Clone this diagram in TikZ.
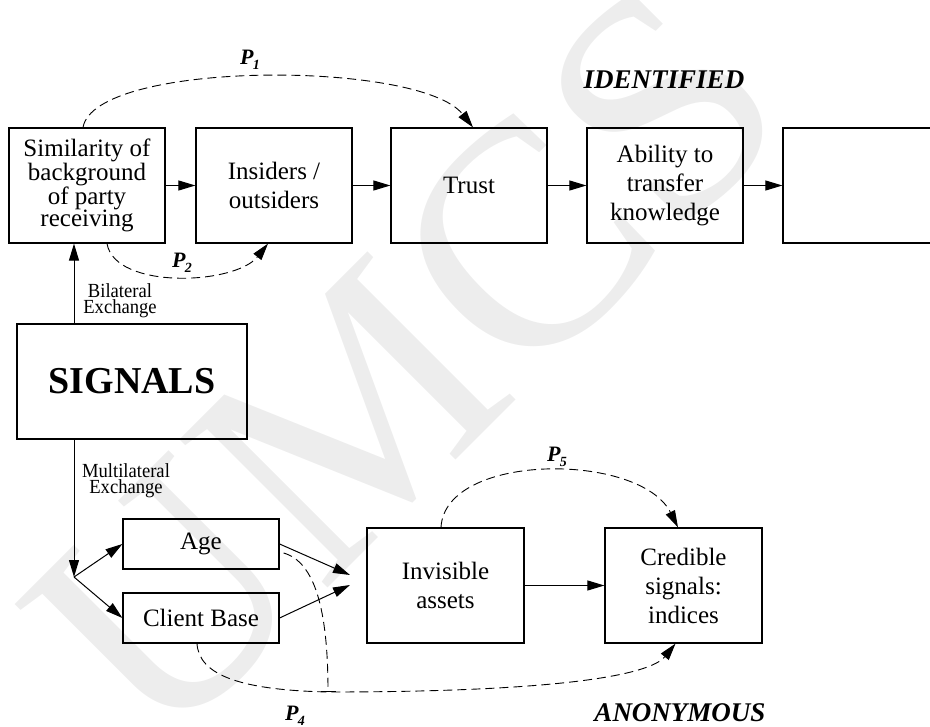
\documentclass[tikz,border=0pt]{standalone}
\usepackage{fontspec}
\setmainfont{Liberation Serif}
\newfontfamily\narrowserif{Liberation Serif}[FakeStretch=0.93]
\usetikzlibrary{arrows.meta,calc}
\newcommand\pname[1]{P\kern-0.5pt\raisebox{-5pt}{\fontsize{14}{14}\selectfont #1}}

\begin{document}
\begin{tikzpicture}[x=1pt,y=-1pt,
  box/.style={draw, line width=1.2pt, minimum width=156pt, minimum height=115pt,
    align=center, inner sep=0pt, font=\fontsize{25}{29}\selectfont},
  smallbox/.style={box, minimum height=50pt},
  arr/.style={line width=1pt, -{Triangle[length=17pt,width=10pt]}},
  darr/.style={line width=0.9pt, dash pattern=on 9pt off 5pt,
    -{Triangle[length=17pt,width=10pt]}},
  dline/.style={line width=0.9pt, dash pattern=on 9pt off 5pt},
  plab/.style={font=\fontsize{22}{22}\selectfont\bfseries\itshape, inner sep=0pt},
  tag/.style={font=\fontsize{27}{27}\selectfont\bfseries\itshape, inner sep=0pt},
  exlab/.style={font=\narrowserif\fontsize{20}{16}\selectfont, align=center, inner sep=0pt}
]
\useasboundingbox (0,0) rectangle (930,727);
\clip (0,0) rectangle (930,727);

% faint background lettering
\node[rotate=45, anchor=base, text=black!7, inner sep=0pt,
  font=\fontsize{320}{320}\selectfont] (wm) at (479,437) {UMCS};

% identified chain
\node[box, font=\fontsize{25}{22.5}\selectfont] (sim) at (87,185.5)
  {Similarity of\\background\\of party\\receiving};
\node[box] (ins) at (274,185.5) {Insiders /\\outsiders};
\node[box] (tru) at (469,185.5) {Trust};
\node[box] (abi) at (665,185.5) {Ability to\\transfer\\knowledge};
\node[box] (emp) at (861,185.5) {};

% signals
\node[box, minimum width=230pt, font=\fontsize{38}{38}\selectfont\bfseries]
  (sig) at (132,381.5) {SIGNALS};

% anonymous chain
\node[smallbox] (age) at (201,544) {Age};
\node[smallbox] (cli) at (201,618) {Client Base};
\node[box, minimum width=157pt] (inv) at (445.5,585.5) {Invisible\\assets};
\node[box, minimum width=157pt] (cre) at (683.5,585.5) {Credible\\signals:\\indices};

% solid connectors
\draw[arr] (sim) -- (ins);
\draw[arr] (ins) -- (tru);
\draw[arr] (tru) -- (abi);
\draw[arr] (abi) -- (emp);

\coordinate (vx) at (74,400);
\coordinate (fork) at (74,577);
\draw[arr] (sig.north -| vx) -- (sim.south -| vx);
\draw[arr] (sig.south -| vx) -- (fork);
\draw[arr] (fork) -- (age.west);
\draw[arr] (fork) -- (cli.west);

\coordinate (inA) at (350,575);
\coordinate (inB) at (350,585);
\draw[arr] (age.east) -- (inA);
\draw[arr] (cli.east) -- (inB);
\draw[arr] (inv) -- (cre);

% dashed propositions
\draw[darr] ($(sim.north)+(-4,0)$) .. controls (95,60) and (420,60) .. ($(tru.north)+(4,0)$);
\draw[darr] ($(sim.south)+(20,0)$) .. controls (115,290) and (235,285) .. ($(ins.south)+(-6,0)$);
\draw[darr] ($(inv.north)+(-4.5,0)$) .. controls (445,452) and (640,452) .. ($(cre.north)+(-5.5,0)$);

\coordinate (junc) at (328,692);
\draw[darr] ($(cli.south)+(-4,0)$) .. controls (199,675) and (240,690) .. (junc)
  .. controls (560,692) and (650,675) .. ($(cre.south)+(-8,0)$);
\draw[dline, -{Bar[width=15pt]}] ($(age.east)+(4,9)$) .. controls (315,562) and (328,610) .. (junc);

% labels
\node[plab] (l1) at (250,60) {\pname{1}};
\node[plab] (l2) at (182,263) {\pname{2}};
\node[plab] (l5) at (557,457) {\pname{5}};
\node[plab] (l4) at (295,716) {\pname{4}};

\node[tag] (idt) at (664,80) {IDENTIFIED};
\node[tag] (ano) at (680,713) {ANONYMOUS};

\node[exlab] (bil) at (120,301) {Bilateral\\Exchange};
\node[exlab] (mul) at (126,481) {Multilateral\\Exchange};
\end{tikzpicture}
\end{document}
